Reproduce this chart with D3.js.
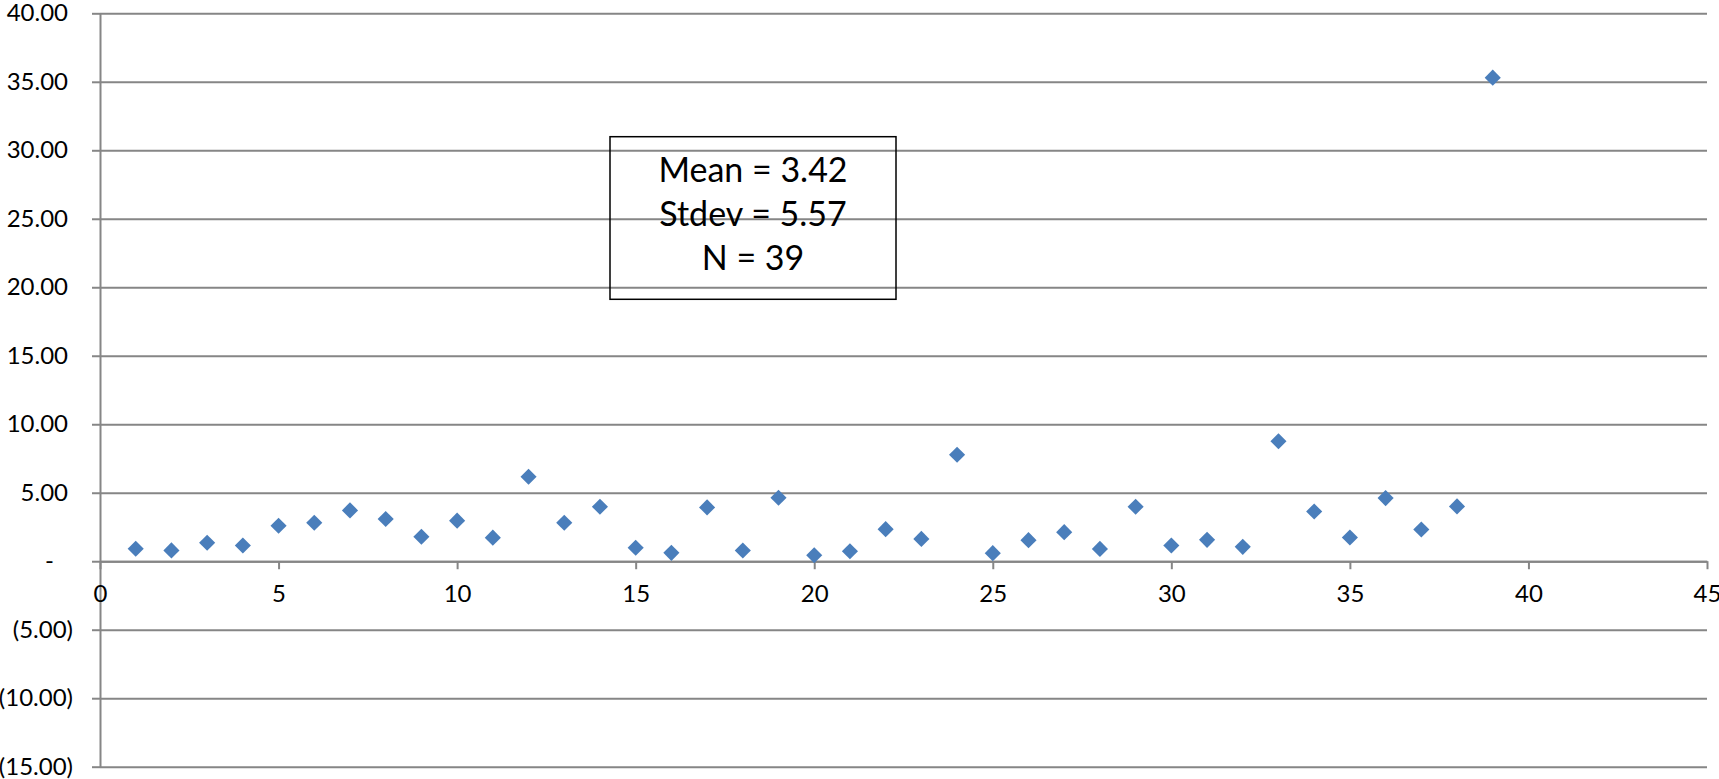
<!DOCTYPE html>
<html>
<head>
<meta charset="utf-8">
<script src="https://cdn.jsdelivr.net/npm/d3@7"></script>
<style>
  body { margin: 0; background: #fff; }
  text { font-family: Lato, "Open Sans", sans-serif; fill: #000; }
</style>
</head>
<body>
<div id="chart"></div>
<script>
var obs = d3.range(1, 40);
var values = [0.91, 0.79, 1.35, 1.15, 2.59, 2.81, 3.71, 3.08, 1.79, 2.96,
              1.72, 6.17, 2.81, 3.98, 0.98, 0.61, 3.93, 0.78, 4.63, 0.44,
              0.73, 2.34, 1.63, 7.77, 0.59, 1.54, 2.12, 0.90, 3.98, 1.15,
              1.56, 1.05, 8.76, 3.63, 1.73, 4.61, 2.32, 4.00, 35.30];
var xTicks = [0, 5, 10, 15, 20, 25, 30, 35, 40, 45];
var yTicks = [-15, -10, -5, 0, 5, 10, 15, 20, 25, 30, 35, 40];
var statLines = ['Mean = 3.42', 'Stdev = 5.57', 'N = 39'];

var width = 1719;
var height = 779;
var plotLeft = 100;
var plotRight = 1707;
var plotTop = 13.3;
var plotBottom = 766.7;
var gridColor = '#868686';

var svg = d3
    .select('#chart')
    .append('svg')
    .attr('width', width)
    .attr('height', height);

var xScale = d3.scaleLinear().domain([0, 45]).range([plotLeft, plotRight]);
var yScale = d3.scaleLinear().domain([-15, 40]).range([plotBottom, plotTop]);

// horizontal gridlines
svg.append('g')
    .attr('class', 'grid')
    .attr('transform', `translate(${plotLeft},0)`)
    .call(d3.axisLeft(yScale).tickValues(yTicks).tickSize(-(plotRight - plotLeft)).tickFormat(''))
    .call(g => g.select('.domain').remove())
    .selectAll('line')
    .attr('stroke', gridColor)
    .attr('stroke-width', 2);

// y axis with accounting style labels
function acct(v) {
    if (v === 0) return '-';
    if (v < 0) return '(' + d3.format('.2f')(-v) + ')';
    return d3.format('.2f')(v);
}

var yAxis = svg.append('g')
    .attr('transform', `translate(${plotLeft},0)`)
    .call(d3.axisLeft(yScale).tickValues(yTicks).tickSize(8).tickSizeOuter(0).tickPadding(24).tickFormat(acct));

yAxis.select('.domain').attr('stroke', gridColor).attr('stroke-width', 2);
yAxis.selectAll('.tick line').attr('stroke', gridColor).attr('stroke-width', 2);
yAxis.selectAll('.tick text')
    .style('font-size', '24px')
    .attr('x', d => d === 0 ? -46 : (d < 0 ? -27 : -32));

// x axis sits on y = 0
var xAxis = svg.append('g')
    .attr('transform', `translate(0,${yScale(0)})`)
    .call(d3.axisBottom(xScale).tickValues(xTicks).tickSize(8).tickSizeOuter(0).tickPadding(16));

xAxis.select('.domain').attr('stroke', gridColor).attr('stroke-width', 2);
xAxis.selectAll('.tick line').attr('stroke', gridColor).attr('stroke-width', 2);
xAxis.selectAll('.tick text').style('font-size', '24px');

// diamond markers
var diamond = d3.symbol().type(d3.symbolSquare).size(130);

svg.append('g')
    .selectAll('path')
    .data(values)
    .enter()
    .append('path')
    .attr('d', diamond)
    .attr('fill', '#4A7EBB')
    .attr('transform', (d, i) => `translate(${xScale(obs[i])},${yScale(d)}) rotate(45)`);

// stats box
svg.append('rect')
    .attr('x', 610)
    .attr('y', 136.7)
    .attr('width', 286)
    .attr('height', 162.6)
    .attr('fill', 'none')
    .attr('stroke', '#000')
    .attr('stroke-width', 1.5);

svg.append('g')
    .selectAll('text')
    .data(statLines)
    .enter()
    .append('text')
    .text(d => d)
    .attr('x', 753)
    .attr('y', (d, i) => 181.7 + i * 44.2)
    .attr('text-anchor', 'middle')
    .style('font-size', '34px');
</script>
</body>
</html>
